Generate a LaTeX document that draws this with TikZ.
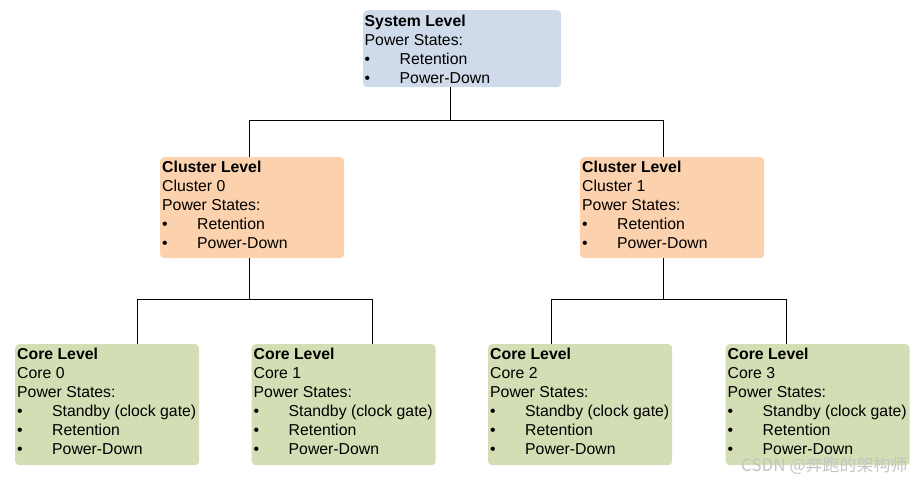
\documentclass[tikz,border=0pt]{standalone}
\usepackage{fontspec}
\setmainfont{Liberation Sans}
\newfontfamily\cjk{Noto Sans CJK SC}
\definecolor{sysblue}{HTML}{CFDBEA}
\definecolor{clorange}{HTML}{FBD1AE}
\definecolor{coregreen}{HTML}{D3DEB4}
\definecolor{wmgray}{HTML}{C4C4C4}
\newcommand{\bul}[1]{\makebox[35pt][l]{•}#1}
\newcommand{\fl}{\rule{0pt}{12pt}}
\begin{document}
\begin{tikzpicture}[x=1pt,y=-1pt,
  box/.style={rectangle, rounded corners=4pt, inner sep=0pt, anchor=north west},
  sysbox/.style={box, fill=sysblue, minimum width=198pt, minimum height=77pt},
  clbox/.style={box, fill=clorange, minimum width=184pt, minimum height=101pt},
  corebox/.style={box, fill=coregreen, minimum width=184pt, minimum height=121pt},
  txt/.style={anchor=north west, inner sep=0pt, align=left, font=\fontsize{15.8}{19}\selectfont},
  conn/.style={draw=black, line width=1pt}]
\useasboundingbox (0,0) rectangle (918,481);

% boxes
\node[sysbox] (sys) at (363,10) {};
\node[clbox] (cl0) at (160,157) {};
\node[clbox] (cl1) at (580,157) {};
\node[corebox] (c0) at (15,344) {};
\node[corebox] (c1) at (251.5,344) {};
\node[corebox] (c2) at (488,344) {};
\node[corebox] (c3) at (725.5,344) {};

% texts
\node[txt] (syst) at ([xshift=1.5pt,yshift=-4pt]sys.north west)
  {\fl\textbf{System Level}\\Power States:\\\bul{Retention}\\\bul{Power-Down}};
\node[txt] (cl0t) at ([xshift=2pt,yshift=-3.5pt]cl0.north west)
  {\fl\textbf{Cluster Level}\\Cluster 0\\Power States:\\\bul{Retention}\\\bul{Power-Down}};
\node[txt] (cl1t) at ([xshift=2pt,yshift=-3.5pt]cl1.north west)
  {\fl\textbf{Cluster Level}\\Cluster 1\\Power States:\\\bul{Retention}\\\bul{Power-Down}};
\node[txt] (c0t) at ([xshift=2pt,yshift=-3.5pt]c0.north west)
  {\fl\textbf{Core Level}\\Core 0\\Power States:\\\bul{Standby (clock gate)}\\\bul{Retention}\\\bul{Power-Down}};
\node[txt] (c1t) at ([xshift=2pt,yshift=-3.5pt]c1.north west)
  {\fl\textbf{Core Level}\\Core 1\\Power States:\\\bul{Standby (clock gate)}\\\bul{Retention}\\\bul{Power-Down}};
\node[txt] (c2t) at ([xshift=2pt,yshift=-3.5pt]c2.north west)
  {\fl\textbf{Core Level}\\Core 2\\Power States:\\\bul{Standby (clock gate)}\\\bul{Retention}\\\bul{Power-Down}};
\node[txt] (c3t) at ([xshift=2pt,yshift=-3.5pt]c3.north west)
  {\fl\textbf{Core Level}\\Core 3\\Power States:\\\bul{Standby (clock gate)}\\\bul{Retention}\\\bul{Power-Down}};

% connector x positions and bar heights
\coordinate (xs) at (450.5,0);
\coordinate (x0) at (249.3,0);
\coordinate (x1) at (663.3,0);
\coordinate (xc0) at (137.3,0);
\coordinate (xc1) at (372.7,0);
\coordinate (xc2) at (551.7,0);
\coordinate (xc3) at (786.3,0);
\coordinate (ya) at (0,121);
\coordinate (yb) at (0,299.3);

\draw[conn] (sys.south -| xs) -- (xs |- ya) -| (cl0.north -| x0);
\draw[conn] (xs |- ya) -| (cl1.north -| x1);
\draw[conn] (cl0.south -| x0) -- (x0 |- yb) -| (c0.north -| xc0);
\draw[conn] (x0 |- yb) -| (c1.north -| xc1);
\draw[conn] (cl1.south -| x1) -- (x1 |- yb) -| (c2.north -| xc2);
\draw[conn] (x1 |- yb) -| (c3.north -| xc3);

% watermark
\node[anchor=west, inner sep=0pt, text=wmgray, font=\cjk\fontsize{17}{17}\selectfont] (wm) at (741,466) {CSDN @奔跑的架构师};
\end{tikzpicture}
\end{document}
